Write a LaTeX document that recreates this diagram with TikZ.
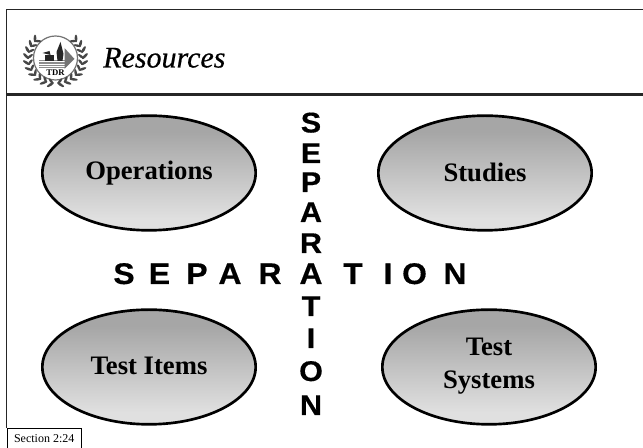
\documentclass[tikz,border=0pt]{standalone}
\usepackage{fontspec}
\setmainfont{Liberation Serif}
\newfontfamily\arialf[FakeStretch=1.07,FakeBold=0.4]{Liberation Sans Bold}
\newfontfamily\titlef[FakeBold=0.5]{Liberation Serif Italic}
\usetikzlibrary{shapes.geometric}
\definecolor{topg}{gray}{0.65}
\definecolor{botg}{gray}{0.88}
\pgfdeclareverticalshading{blobsh}{100bp}{color(0bp)=(botg); color(30bp)=(botg); color(68bp)=(topg); color(100bp)=(topg)}
\tikzset{
  x=0.75pt,y=-0.75pt,
  blob/.style={ellipse,draw=black,line width=2pt,shading=blobsh,
    minimum width=160pt,minimum height=86pt,inner sep=0pt,align=center,
    font=\fontsize{20}{24.7}\selectfont\bfseries},
  blobtext/.style={inner sep=0pt,align=center,font=\fontsize{20}{24.7}\selectfont\bfseries},
  seph/.style={font=\arialf\fontsize{22.4}{22.4}\selectfont,inner sep=0pt,anchor=base},
  sepv/.style={font=\arialf\fontsize{21.4}{21.4}\selectfont,inner sep=0pt,anchor=base},
  framel/.style={draw=black!85,line width=1.1pt},
  leaf/.style={fill=black!72}
}
\begin{document}
\begin{tikzpicture}
\useasboundingbox (0,0) rectangle (643,448);
\fill[white] (0,0) rectangle (643,448);
\coordinate (tl) at (6.5,9.5);
\coordinate (tr) at (643,9.5);
\coordinate (bl) at (6.5,428);
\coordinate (ml) at (6.5,94.7);
\coordinate (mr) at (643,94.7);
\draw[framel] (bl) -- (tl) -- (tr);
\draw[framel,line width=1.8pt] (ml) -- (mr);
% logo
\begin{scope}[shift={(55.5,58)}]
\draw[black!55,line width=0.9pt] (0,0) circle (22);
\fill[black!45] (-17,2) rectangle (9,10);
\foreach \yy in {3.5,6,8.5}{\draw[white,line width=0.3pt] (-17,\yy) -- (9,\yy);}
\fill[black!55] (9,-10) -- (19,1) -- (9,11) -- cycle;
\fill[black!85] (-11,-3) rectangle (-2,3);
\fill[black!85] (-13,-5) -- (-6,-7) -- (-5,-3) -- cycle;
\fill[black!85] (5,-16) -- (8,-4) -- (7,3) -- (2,3) -- (1,-6) -- cycle;
\fill[white] (-11,11) rectangle (11,18);
\node[font=\fontsize{6.5}{7}\selectfont\bfseries,inner sep=0pt] (tdr) at (0,14.5) {TDR};
\begin{scope}[yscale=0.92]
\foreach \a in {100,114,...,226}{
  \pgfmathsetmacro{\th}{-\a}
  \pgfmathsetmacro{\thr}{\a-180}
  \fill[leaf] (\a:29.5) ++(0,0) [rotate around={\th-45:(\a:29.5)}] ellipse (4.2 and 1.4);
  \fill[leaf] (\a:25.5) [rotate around={\th-135:(\a:25.5)}] ellipse (3.6 and 1.3);
  \fill[leaf] (180-\a:29.5) [rotate around={\thr+45:(180-\a:29.5)}] ellipse (4.2 and 1.4);
  \fill[leaf] (180-\a:25.5) [rotate around={\thr+135:(180-\a:25.5)}] ellipse (3.6 and 1.3);
}
\end{scope}
\end{scope}
\node[anchor=base west,inner sep=0pt,font=\titlef\fontsize{22.5}{24}\selectfont] (title) at (103,67.5) {Resources};
\node[blob] (ops) at (149,173) {Operations};
\node[blob] (stu) at (485,173) {\raisebox{0.8pt}{Studies}};
\node[blob] (itm) at (149,367) {\raisebox{1.5pt}{Test Items}};
\node[blob] (sys) at (489,367) {};
\node[blobtext] (syst) at (489,366) {Test\\Systems};
\foreach \c/\x [count=\i] in {S/124,E/159.5,P/197,A/230,R/270,A/311,T/353,I/388,O/414.5,N/455}{
  \node[seph] (h\i) at (\x,284) {\c};
}
\foreach \c/\y [count=\i] in {S/132.5,E/163,P/192,A/222,R/253,T/316,I/348,O/381,N/415}{
  \node[sepv] (v\i) at (311,\y) {\c};
}
\node[draw=black,line width=0.6pt,fill=white,anchor=north west,minimum width=56pt,minimum height=16pt,inner sep=0pt,font=\fontsize{9}{10}\selectfont] (sec) at (6.5,428) {Section 2:24};
\end{tikzpicture}
\end{document}
